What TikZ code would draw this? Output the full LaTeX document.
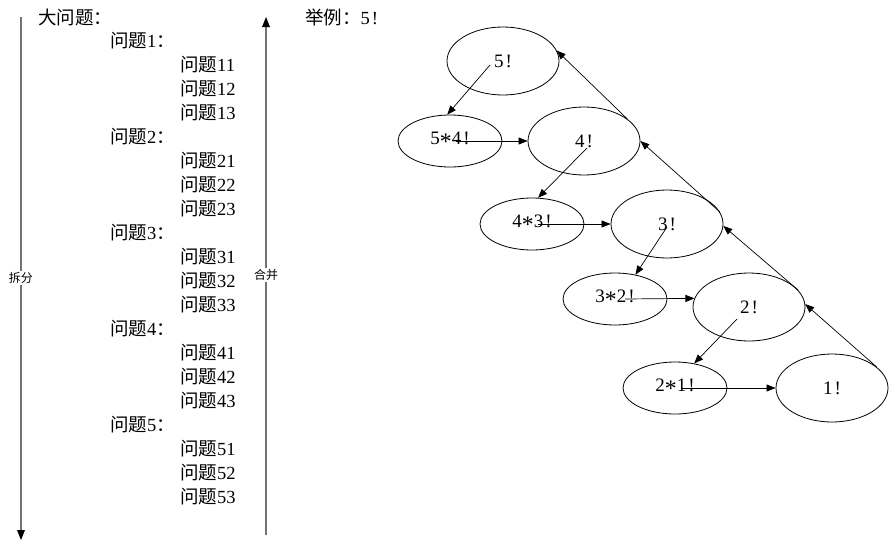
\documentclass[tikz,border=0pt]{standalone}
\usepackage{fontspec}
\setmainfont{Liberation Serif}
\newfontfamily\cjk{Noto Sans CJK SC}
\usetikzlibrary{shapes.geometric,arrows.meta}
\newcommand\zh[1]{{\cjk #1}}
\newcommand\mulsign{\raisebox{-0.28em}{\scalebox{1.25}{*}}}
\newcommand\bang{\kern2pt!}
\tikzset{
  txt/.style={anchor=base west,inner sep=0pt,font=\fontsize{18.5}{20}\selectfont},
  bigell/.style={draw,ellipse,line width=0.8pt,minimum width=112pt,minimum height=68pt,inner sep=0pt,font=\fontsize{19}{20}\selectfont},
  smallell/.style={draw,ellipse,line width=0.8pt,minimum width=104pt,minimum height=52pt,inner sep=0pt,font=\fontsize{19}{20}\selectfont},
  arr/.style={-{Triangle[length=9pt,width=7pt]},line width=0.7pt},
  axis/.style={line width=1.6pt,draw=black!55},
  axlabel/.style={fill=white,inner sep=1.5pt,font=\cjk\fontsize{12}{13}\selectfont}
}
\begin{document}
\begin{tikzpicture}[x=1pt,y=-1pt]
\useasboundingbox (0,0) rectangle (890,541);
% vertical arrows
\coordinate (lt) at (21,17);
\coordinate (lb) at (21,540);
\coordinate (rt) at (266,17);
\coordinate (rb) at (266,535);
\draw[axis] (lt) -- (21,530);
\fill (lb) -- (17,530) -- (25,530) -- cycle;
\draw[axis] (rb) -- (266,27);
\fill (rt) -- (262,27) -- (270,27) -- cycle;
\node[axlabel] (split) at (21,278) {拆分};
\node[axlabel] (merge) at (266,275) {合并};
% left list
\node[txt] (big) at (38,24) {\zh{大问题：}};
\foreach \i in {1,...,5} {
  \pgfmathsetmacro\yy{47+96*(\i-1)}
  \node[txt] (q\i) at (110,\yy) {\zh{问题}\i\zh{：}};
  \foreach \j in {1,2,3} {
    \pgfmathsetmacro\yz{\yy+24*\j}
    \node[txt] (q\i\j) at (180,\yz) {\zh{问题}\i\j};
  }
}
\node[txt] (ex) at (305,24) {\zh{举例：}5\bang};
% ellipses
\node[bigell] (e5) at (503,61) {5\bang};
\node[smallell] (e54) at (450,141) {5\mulsign4\bang};
\node[bigell] (e4) at (584,141) {4\bang};
\node[smallell] (e43) at (532,224) {4\mulsign3\bang};
\node[bigell] (e3) at (667,224) {3\bang};
\node[smallell] (e32) at (615,299) {3\mulsign2\bang};
\node[bigell] (e2) at (749,307) {2\bang};
\node[smallell] (e21) at (675,388) {2\mulsign1\bang};
\node[bigell] (e1) at (832,388) {1\bang};
% down-left arrows
\draw[arr] ([shift={(-13pt,-4pt)}]e5.center) -- (e54.96);
\draw[arr] ([shift={(3pt,-7pt)}]e4.center) -- (e43.77);
\draw[arr] ([shift={(0pt,-3pt)}]e3.center) -- (e32.50);
\draw[arr] ([shift={(-12pt,-12pt)}]e2.center) -- (e21.52);
% horizontal arrows
\draw[arr] ([xshift=6pt]e54.center) -- (e4.west);
\draw[arr] ([xshift=6pt]e43.center) -- (e3.west);
\draw[arr] ([xshift=10pt]e32.center) -- (e2.171.6);
\draw[arr] ([xshift=7pt]e21.center) -- (e1.west);
% upward chain
\draw[arr] (e1.25) -- (e2.3);
\draw[arr] (e2.19) -- (e3.358);
\draw[arr] (e3.13) -- (e4.east);
\draw[arr] (e4.27) -- (e5.11);
\end{tikzpicture}
\end{document}
